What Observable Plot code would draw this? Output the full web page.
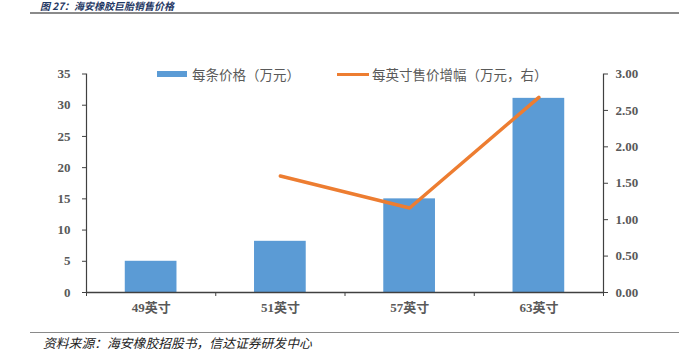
<!DOCTYPE html>
<html><head><meta charset="utf-8">
<script src="https://cdn.jsdelivr.net/npm/d3@7"></script>
<script src="https://cdn.jsdelivr.net/npm/@observablehq/plot@0.6"></script>
<style>
body{margin:0;background:#fff;}
#wrap{position:relative;width:679px;height:351px;overflow:hidden;background:#fff;}
#title{position:absolute;left:40px;top:1px;font:italic bold 10px/10px "Noto Sans CJK SC",sans-serif;color:#1F3864;white-space:nowrap;}
#topline{position:absolute;left:30px;top:12px;width:649px;height:0;border-top:2px solid #8a8a8a;}
#chart{position:absolute;left:0;top:20px;}
#legend{position:absolute;left:0;top:64px;width:679px;height:20px;font:13.5px "Noto Sans CJK SC",sans-serif;color:#595959;}
#legend .item{position:absolute;top:0;display:flex;align-items:center;height:20px;white-space:nowrap;}
#legend .sw1{width:30px;height:6px;background:#5B9BD5;margin-right:5px;}
#legend .sw2{width:32px;height:0;border-top:3.5px solid #ED7D31;margin-right:3px;}
#botline{position:absolute;left:30px;top:332px;width:649px;height:0;border-top:1.5px solid #8a8a8a;}
#caption{position:absolute;left:43px;top:333px;font:italic 12.8px "Noto Sans CJK SC",sans-serif;color:#222;white-space:nowrap;}
</style></head><body>
<div id="wrap">
  <div id="title">图 27：海安橡胶巨胎销售价格</div>
  <div id="topline"></div>
  <div id="chart"></div>
  <div id="legend">
    <div class="item" style="left:157px"><div class="sw1"></div><span id="lg1"></span></div>
    <div class="item" style="left:337px"><div class="sw2"></div><span id="lg2"></span></div>
  </div>
  <div id="botline"></div>
  <div id="caption">资料来源：海安橡胶招股书，信达证券研发中心</div>
</div>
<script>
const categories = ["49英寸", "51英寸", "57英寸", "63英寸"];
const pricePerUnit = [5.0, 8.2, 15.0, 31.1];          // 每条价格（万元）
const growthPerInch = [null, 1.60, 1.16, 2.68];       // 每英寸售价增幅（万元，右）
const leftTicks = [0, 5, 10, 15, 20, 25, 30, 35];
const rightTicks = [0, 0.5, 1.0, 1.5, 2.0, 2.5, 3.0];
const leftMax = 35, rightMax = 3;
const seriesNames = ["每条价格（万元）", "每英寸售价增幅（万元，右）"];

document.getElementById("lg1").textContent = seriesNames[0];
document.getElementById("lg2").textContent = seriesNames[1];

const rows = categories.map((c, i) => ({i, cat: c, price: pricePerUnit[i], growth: growthPerInch[i]}));
const lineRows = rows.filter(d => d.growth != null);
const toLeft = v => v * leftMax / rightMax;

const axisFont = {fontFamily: "'Liberation Serif','Noto Sans CJK SC',serif", fontWeight: "bold", fontSize: 13};

const chart = Plot.plot({
  width: 679,
  height: 300,
  marginTop: 53.5,
  marginBottom: 28,
  marginLeft: 86,
  marginRight: 76,
  style: {background: "transparent", color: "#595959", ...axisFont},
  x: {type: "linear", domain: [0, categories.length], axis: null},
  y: {domain: [0, leftMax], axis: null},
  marks: [
    Plot.rectY(rows, {x1: d => d.i + 0.3, x2: d => d.i + 0.7, y: "price", fill: "#5B9BD5"}),
    Plot.line(lineRows, {x: d => d.i + 0.5, y: d => toLeft(d.growth), stroke: "#ED7D31", strokeWidth: 3.5, strokeLinecap: "round", strokeLinejoin: "round"}),
    Plot.ruleY([0], {stroke: "#404040", strokeWidth: 1.5}),
    Plot.ruleX([0, categories.length], {stroke: "#404040", strokeWidth: 1.2}),
    Plot.axisY({anchor: "left", label: null, ticks: leftTicks, tickSize: 4, tickPadding: 12, stroke: "#404040", fill: "#595959", tickFormat: d => String(d)}),
    Plot.axisY({anchor: "right", label: null, ticks: rightTicks.map(toLeft), tickSize: 4, tickPadding: 8, stroke: "#404040", fill: "#595959", tickFormat: d => (d * rightMax / leftMax).toFixed(2)}),
    Plot.axisX({label: null, ticks: d3.range(categories.length + 1), tickSize: 4, stroke: "#404040", tickFormat: () => ""}),
    Plot.axisX({label: null, ticks: rows.map(d => d.i + 0.5), tickSize: 0, tickPadding: 10, fill: "#595959", tickFormat: x => categories[Math.floor(x)]})
  ]
});
document.getElementById("chart").appendChild(chart);
</script>
</body></html>
